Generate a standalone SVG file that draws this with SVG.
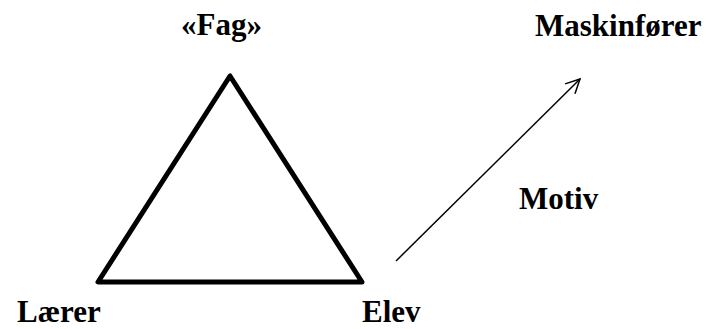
<svg xmlns="http://www.w3.org/2000/svg" width="707" height="329" viewBox="0 0 707 329">
<style>
text{font-family:"Liberation Serif","Times New Roman",serif;font-weight:bold;font-size:31px;fill:#000}
.tri{fill:none;stroke:#000;stroke-width:5;stroke-linejoin:round}
.arr{fill:none;stroke:#000;stroke-width:1.5}
</style>
<defs>
<marker id="open" viewBox="0 0 20 20" refX="18" refY="10" markerWidth="20" markerHeight="20" markerUnits="userSpaceOnUse" orient="auto">
<path d="M4,3 L18,10 L4,17" fill="none" stroke="#000" stroke-width="1.5"/>
</marker>
</defs>
<g id="triangle"><polygon class="tri" points="230,76 98,282 362,282"/></g>
<g id="fag"><text x="181" y="35">«Fag»</text></g>
<g id="laerer"><text x="17" y="322">Lærer</text></g>
<g id="elev"><text x="362" y="322">Elev</text></g>
<g id="maskinforer"><text x="535" y="36">Maskinfører</text></g>
<g id="connectors"><line class="arr" x1="396" y1="261" x2="580" y2="79" marker-end="url(#open)"/></g>
<g id="motiv"><text x="519" y="209">Motiv</text></g>
</svg>
